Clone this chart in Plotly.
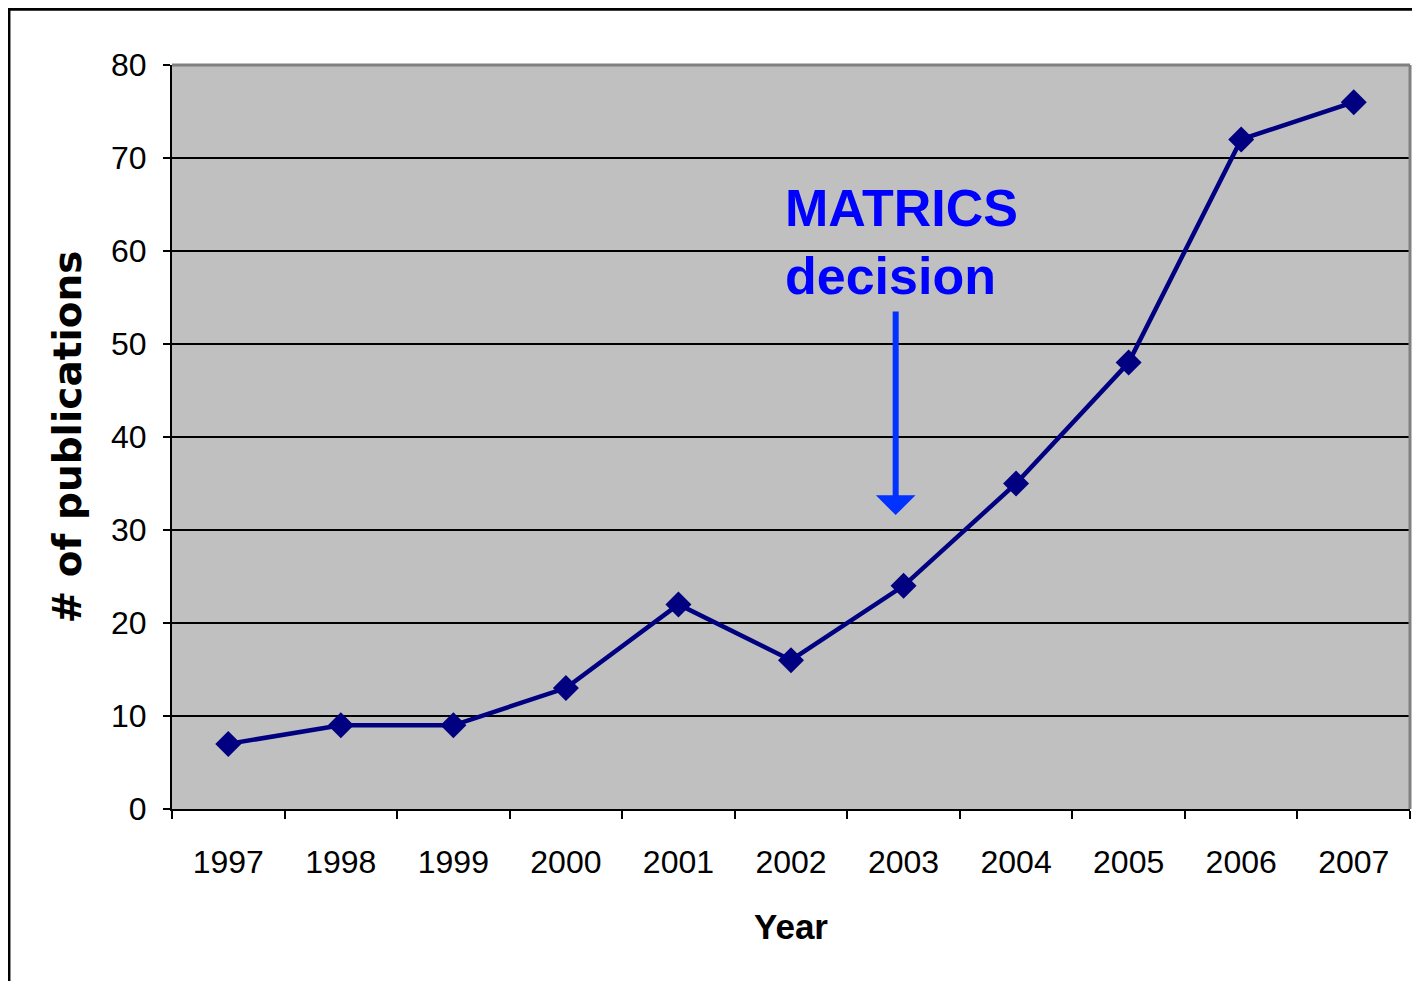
import plotly.graph_objects as go

years = ["1997", "1998", "1999", "2000", "2001", "2002", "2003", "2004", "2005", "2006", "2007"]
publications = [7, 9, 9, 13, 22, 16, 24, 35, 48, 72, 76]
y_ticks = [0, 10, 20, 30, 40, 50, 60, 70, 80]
note_text = "MATRICS<br>decision"
note_x, note_y = 4.93, 61.0
arrow_x, arrow_tip, arrow_tail = 5.93, 31.6, 54.4

fig = go.Figure()
fig.add_trace(go.Scatter(
    x=years, y=publications, mode="lines+markers",
    line=dict(color="#000080", width=4.5),
    marker=dict(symbol="diamond", size=20, color="#000080"),
    showlegend=False,
))

fig.update_layout(
    width=1412, height=973,
    margin=dict(l=164, r=10, t=57, b=172),
    paper_bgcolor="white", plot_bgcolor="#C0C0C0",
    font=dict(family="Liberation Sans, Arial, sans-serif", color="black"),
    xaxis=dict(
        type="category", tickson="boundaries", ticks="outside", ticklen=8,
        tickwidth=2, tickcolor="black", showgrid=False, showline=True,
        linecolor="black", linewidth=2, tickfont=dict(size=32),
        ticklabelstandoff=24,
        title=dict(text="Year", font=dict(size=35, family="Liberation Sans, Arial", weight="bold"), standoff=35),
        range=[-0.5, 10.5],
    ),
    yaxis=dict(
        range=[0, 80], tickvals=y_ticks, ticks="outside", ticklen=7,
        tickwidth=2, tickcolor="black", showgrid=True, gridcolor="black",
        gridwidth=2, zeroline=False, showline=True, linecolor="black",
        linewidth=2, tickfont=dict(size=32), ticklabelstandoff=10,
        title=dict(text="# of publications", font=dict(size=39, family="DejaVu Sans", weight="bold"), standoff=17),
    ),
    shapes=[
        dict(type="line", xref="paper", yref="paper", x0=0, x1=1, y0=1, y1=1,
             line=dict(color="#808080", width=3), layer="above"),
        dict(type="line", xref="paper", yref="paper", x0=1, x1=1, y0=0, y1=1,
             line=dict(color="#808080", width=3), layer="above"),
        dict(type="rect", xref="paper", yref="paper", x0=-0.1317, x1=1.03, y0=-0.26, y1=1.075,
             line=dict(color="black", width=3), layer="above"),
    ],
    annotations=[
        dict(x=note_x, y=note_y, xref="x", yref="y", text=note_text, showarrow=False,
             xanchor="left", yanchor="middle", align="left",
             font=dict(size=52, color="#0000FF", family="Liberation Sans, Arial", weight="bold")),
        dict(x=arrow_x, y=arrow_tip, xref="x", yref="y", ax=arrow_x, ay=arrow_tail,
             axref="x", ayref="y", text=" ", showarrow=True, arrowhead=1, arrowsize=1.1,
             arrowwidth=6, arrowcolor="#0033FF", standoff=0, startstandoff=0),
    ],
)

fig.write_html("out.html")
